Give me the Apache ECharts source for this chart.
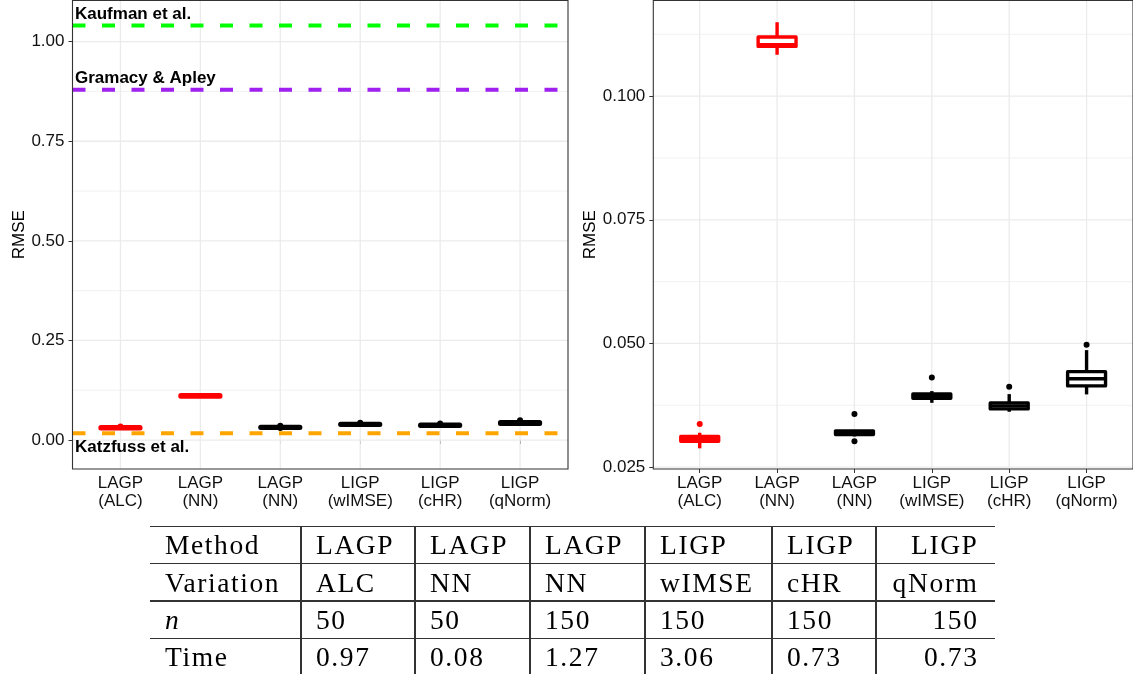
<!DOCTYPE html>
<html>
<head>
<meta charset="utf-8">
<script src="https://cdn.jsdelivr.net/npm/echarts@6/dist/echarts.min.js"></script>
<style>
html,body{margin:0;padding:0;background:#fff;}
#chart{position:absolute;left:0;top:0;width:1133px;height:674px;}
#tbl{position:absolute;left:0;top:0;width:1133px;height:674px;pointer-events:none;font-family:"Liberation Serif",serif;font-size:27.5px;color:#000;}
.cell{position:absolute;display:flex;align-items:center;white-space:nowrap;line-height:1;letter-spacing:1.6px;}
.hl,.vl{position:absolute;background:#333;}
</style>
</head>
<body>
<div id="chart"></div>
<div id="tbl"></div>
<script>
// ---------- data ----------
const categories = ['LAGP\n(ALC)', 'LAGP\n(NN)', 'LAGP\n(NN)', 'LIGP\n(wIMSE)', 'LIGP\n(cHR)', 'LIGP\n(qNorm)'];
const whiskerLow  = [0.02880, 0.10836, 0.03120, 0.03800, 0.03619, 0.03970];
const q1          = [0.03023, 0.11005, 0.03158, 0.03891, 0.03677, 0.04142];
const median      = [0.03067, 0.11040, 0.03195, 0.03936, 0.03738, 0.04285];
const q3          = [0.03118, 0.11195, 0.03233, 0.03980, 0.03798, 0.04430];
const whiskerHigh = [0.03195, 0.11494, 0.03250, 0.04037, 0.03976, 0.04865];
const outlierCat  = [1, 3, 3, 4, 5, 6];
const outlierVal  = [0.03370, 0.03572, 0.03021, 0.04313, 0.04124, 0.04972];
const refNames    = ['Kaufman et al.', 'Gramacy & Apley', 'Katzfuss et al.'];
const refValues   = [1.0406, 0.8794, 0.0168];
const leftTicks   = [0, 0.25, 0.5, 0.75, 1.0];
const rightTicks  = [0.025, 0.05, 0.075, 0.1];
const tableRows = [
  ['Method', 'LAGP', 'LAGP', 'LAGP', 'LIGP', 'LIGP', 'LIGP'],
  ['Variation', 'ALC', 'NN', 'NN', 'wIMSE', 'cHR', 'qNorm'],
  ['n', '50', '50', '150', '150', '150', '150'],
  ['Time', '0.97', '0.08', '1.27', '3.06', '0.73', '0.73']
];

// ---------- styles ----------
const boxColors = ['#FF0000', '#FF0000', '#000000', '#000000', '#000000', '#000000'];
const refColors = ['#00FF00', '#A020F0', '#FFA500'];
const refLabelBelow = [false, false, true];
const boxLineWidth = [5, 3.4];
const FONT = 'Liberation Sans';
const X_MIN = 0.4, X_MAX = 6.6;
const yRanges = [[-0.0727, 1.1033], [0.02462, 0.11933]];
const tickSets = [leftTicks, rightTicks];

function gridSeries(idx) {
  const ticks = tickSets[idx];
  const [yMin, yMax] = yRanges[idx];
  const step = ticks[1] - ticks[0];
  return {
    type: 'custom', xAxisIndex: idx, yAxisIndex: idx, silent: true, z: 1,
    data: [[1, ticks[0]]],
    renderItem(params, api) {
      const ch = [];
      const minors = [ticks[0] - step / 2].concat(ticks.map(t => t + step / 2)).filter(v => v > yMin && v < yMax);
      minors.forEach(v => {
        const a = api.coord([X_MIN, v]), b = api.coord([X_MAX, v]);
        ch.push({type: 'line', shape: {x1: a[0], y1: a[1], x2: b[0], y2: b[1]}, style: {stroke: '#EBEBEB', lineWidth: 0.7}});
      });
      ticks.forEach(v => {
        const a = api.coord([X_MIN, v]), b = api.coord([X_MAX, v]);
        ch.push({type: 'line', shape: {x1: a[0], y1: a[1], x2: b[0], y2: b[1]}, style: {stroke: '#EBEBEB', lineWidth: 1.3}});
      });
      categories.forEach((c, i) => {
        const a = api.coord([i + 1, yMin]), b = api.coord([i + 1, yMax]);
        ch.push({type: 'line', shape: {x1: a[0], y1: a[1], x2: b[0], y2: b[1]}, style: {stroke: '#EBEBEB', lineWidth: 1.3}});
      });
      return {type: 'group', children: ch};
    }
  };
}

function borderSeries(idx) {
  const [yMin, yMax] = yRanges[idx];
  return {
    type: 'custom', xAxisIndex: idx, yAxisIndex: idx, silent: true, z: 10,
    data: [[1, yMin]],
    renderItem(params, api) {
      const a = api.coord([X_MIN, yMax]), b = api.coord([X_MAX, yMin]);
      return {type: 'rect', shape: {x: a[0], y: a[1], width: b[0] - a[0], height: b[1] - a[1]},
        style: {fill: 'none', stroke: '#333333', lineWidth: 1.1}};
    }
  };
}

function boxSeries(idx) {
  const lw = boxLineWidth[idx];
  return {
    type: 'custom', xAxisIndex: idx, yAxisIndex: idx, silent: true, z: 3,
    data: categories.map((c, i) => [i + 1, whiskerLow[i], q1[i], median[i], q3[i], whiskerHigh[i]]),
    encode: {x: 0, y: [1, 2, 3, 4, 5]},
    renderItem(params, api) {
      const x = api.value(0);
      const col = boxColors[params.dataIndex];
      const pMin = api.coord([x, api.value(1)]);
      const pQ1 = api.coord([x, api.value(2)]);
      const pMed = api.coord([x, api.value(3)]);
      const pQ3 = api.coord([x, api.value(4)]);
      const pMax = api.coord([x, api.value(5)]);
      const hw = 0.245;
      const l = api.coord([x - hw, api.value(3)])[0];
      const r = api.coord([x + hw, api.value(3)])[0];
      return {type: 'group', children: [
        {type: 'line', shape: {x1: pMax[0], y1: pMax[1], x2: pQ3[0], y2: pQ3[1]}, style: {stroke: col, lineWidth: Math.min(lw, 3.4)}},
        {type: 'line', shape: {x1: pQ1[0], y1: pQ1[1], x2: pMin[0], y2: pMin[1]}, style: {stroke: col, lineWidth: Math.min(lw, 3.4)}},
        {type: 'rect', shape: {x: l, y: pQ3[1], width: r - l, height: pQ1[1] - pQ3[1]},
          style: {fill: '#FFFFFF', stroke: col, lineWidth: lw, lineJoin: 'round'}},
        {type: 'line', shape: {x1: l, y1: pMed[1], x2: r, y2: pMed[1]}, style: {stroke: col, lineWidth: Math.min(lw, 3.4)}}
      ]};
    }
  };
}

function outlierSeries(idx) {
  return {
    type: 'scatter', xAxisIndex: idx, yAxisIndex: idx, silent: true, z: 4,
    symbol: 'circle', symbolSize: 6,
    data: outlierCat.map((c, i) => [c, outlierVal[i]]),
    itemStyle: {color: p => boxColors[p.value[0] - 1], opacity: 1},
    emphasis: {disabled: true}
  };
}

const refSeries = {
  type: 'custom', xAxisIndex: 0, yAxisIndex: 0, silent: true, z: 5,
  data: refValues.map((v, i) => [i, v]),
  encode: {x: 0, y: 1},
  renderItem(params, api) {
    const i = params.dataIndex;
    const v = api.value(1);
    const a = api.coord([X_MIN, v]), b = api.coord([X_MAX, v]);
    return {type: 'group', children: [
      {type: 'line', shape: {x1: a[0], y1: a[1], x2: b[0], y2: b[1]},
        style: {stroke: refColors[i], lineWidth: 4, lineDash: [13, 16.5]}},
      {type: 'text', x: a[0] + 2.5, y: a[1] + (refLabelBelow[i] ? 13.5 : -11.5),
        style: {text: refNames[i], fill: '#000', fontSize: 17, fontWeight: 'bold', fontFamily: FONT,
          align: 'left', verticalAlign: 'middle'}}
    ]};
  }
};

function xAxis(idx) {
  const cv = categories.map((c, i) => i + 1);
  return {
    type: 'value', gridIndex: idx, min: X_MIN, max: X_MAX,
    splitLine: {show: false}, axisLine: {show: false},
    axisTick: {show: true, customValues: cv, length: 4, lineStyle: {color: '#333', width: 1}},
    axisLabel: {customValues: cv, formatter: v => categories[Math.round(v) - 1],
      fontSize: 17, lineHeight: 18.5, color: '#111', margin: 5, fontFamily: FONT}
  };
}
function yAxis(idx, digits, gap) {
  const ticks = tickSets[idx];
  return {
    type: 'value', gridIndex: idx, min: yRanges[idx][0], max: yRanges[idx][1],
    splitLine: {show: false}, axisLine: {show: false},
    axisTick: {show: true, customValues: ticks, length: 4, lineStyle: {color: '#333', width: 1}},
    axisLabel: {customValues: ticks, formatter: v => Number(v).toFixed(digits),
      fontSize: 17, color: '#111', margin: 8, fontFamily: FONT},
    name: 'RMSE', nameLocation: 'middle', nameGap: gap,
    nameTextStyle: {fontSize: 17, color: '#000', fontFamily: FONT}
  };
}

const chart = echarts.init(document.getElementById('chart'), null, {renderer: 'canvas'});
chart.setOption({
  animation: false,
  backgroundColor: '#FFFFFF',
  grid: [
    {left: 72.5, top: 0.5, width: 495.5, height: 468.5},
    {left: 653.3, top: 0.5, width: 481, height: 468.5}
  ],
  xAxis: [xAxis(0), xAxis(1)],
  yAxis: [yAxis(0, 2, 42), yAxis(1, 3, 51)],
  series: [
    gridSeries(0), gridSeries(1),
    boxSeries(0), boxSeries(1),
    outlierSeries(0), outlierSeries(1),
    refSeries,
    borderSeries(0), borderSeries(1)
  ]
});

// ---------- table ----------
const colX = [150, 301, 415, 530, 645, 772, 876, 995];
const rowY = [526.5, 563.5, 601, 638.3, 675.6];
const tbl = document.getElementById('tbl');
tableRows.forEach((row, r) => {
  row.forEach((txt, c) => {
    const d = document.createElement('div');
    d.className = 'cell';
    d.style.top = rowY[r] + 'px';
    d.style.height = (rowY[r + 1] - rowY[r]) + 'px';
    if (c === row.length - 1) {
      d.style.left = colX[c] + 'px';
      d.style.width = (colX[c + 1] - colX[c] - 16.5) + 'px';
      d.style.justifyContent = 'flex-end';
    } else {
      d.style.left = (colX[c] + 15) + 'px';
    }
    if (r === 2 && c === 0) {
      const it = document.createElement('i');
      it.textContent = txt;
      d.appendChild(it);
    } else {
      d.textContent = txt;
    }
    tbl.appendChild(d);
  });
});
rowY.slice(0, 4).forEach((y, i) => {
  const h = document.createElement('div');
  h.className = 'hl';
  const t = i === 0 ? 1.6 : 1.2;
  h.style.left = colX[0] + 'px';
  h.style.width = (colX[colX.length - 1] - colX[0]) + 'px';
  h.style.top = (y - t / 2) + 'px';
  h.style.height = t + 'px';
  tbl.appendChild(h);
});
colX.slice(1, colX.length - 1).forEach(x => {
  const v = document.createElement('div');
  v.className = 'vl';
  v.style.left = (x - 0.6) + 'px';
  v.style.width = '1.2px';
  v.style.top = rowY[0] + 'px';
  v.style.height = (674 - rowY[0]) + 'px';
  tbl.appendChild(v);
});
</script>
</body>
</html>
